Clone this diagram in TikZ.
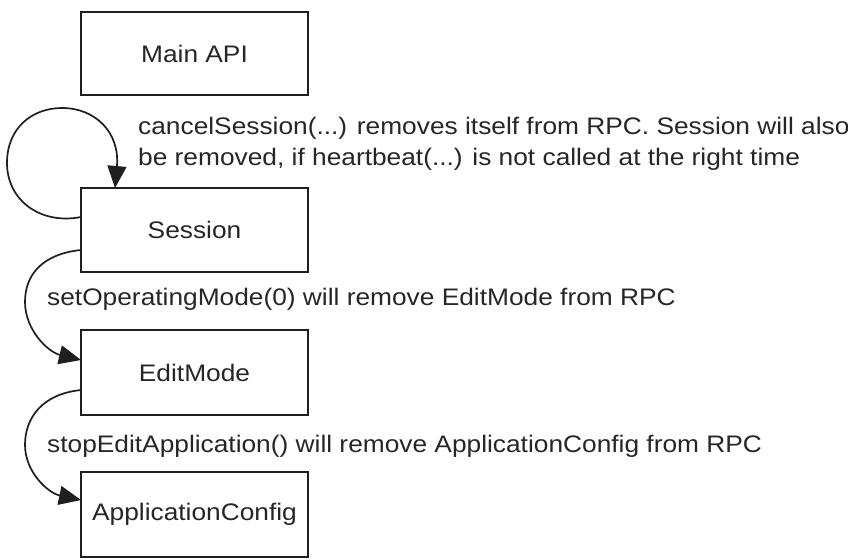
\documentclass[tikz,border=0pt]{standalone}
\usepackage{fontspec}
\setmainfont{Liberation Sans}[FakeStretch=1.1]
\usetikzlibrary{arrows.meta}
\begin{document}
\begin{tikzpicture}[x=1bp,y=-1bp,
  box/.style={draw=black!88,line width=1.7bp,minimum width=227bp,inner sep=0pt,font=\fontsize{24}{28}\selectfont,text=black!85},
  lbl/.style={font=\fontsize{24}{28}\selectfont,text=black!85,inner sep=0pt,anchor=base west},
  conn/.style={draw=black!88,line width=1.7bp,-{Triangle[length=22bp,width=19bp]}}]
\useasboundingbox (0,0) rectangle (848,560);
\node[box,minimum height=83bp] (main) at (194.5,53.5) {Main API};
\node[box,minimum height=84bp] (session) at (194.5,230) {Session};
\node[box,minimum height=85bp] (edit) at (194.5,372.5) {EditMode};
\node[box,minimum height=85bp] (app) at (194.5,514.5) {ApplicationConfig};
\node[lbl] (l1a) at (138,135) {cancelSession(...) removes itself from RPC. Session will also};
\node[lbl] (l1b) at (138,166) {be removed, if heartbeat(...) is not called at the right time};
\node[lbl] (l2) at (47,306) {setOperatingMode(0) will remove EditMode from RPC};
\node[lbl] (l3) at (47,452) {stopEditApplication() will remove ApplicationConfig from RPC};
\coordinate (s1) at (81,217);
\coordinate (s2) at (115,188);
\coordinate (s3) at (81,250);
\coordinate (e1) at (81,360);
\coordinate (e2) at (81,390);
\coordinate (a1) at (81,500);
\draw[conn] (s1) .. controls (40,225) and (7,200) .. (7,163) .. controls (7,128) and (32,108) .. (62,108) .. controls (95,108) and (120,132) .. (s2);
\draw[conn] (s3) .. controls (42,254) and (25,275) .. (25,302) .. controls (25,330) and (48,352) .. (e1);
\draw[conn] (e2) .. controls (42,394) and (25,418) .. (25,445) .. controls (25,472) and (48,493) .. (a1);
\end{tikzpicture}
\end{document}
